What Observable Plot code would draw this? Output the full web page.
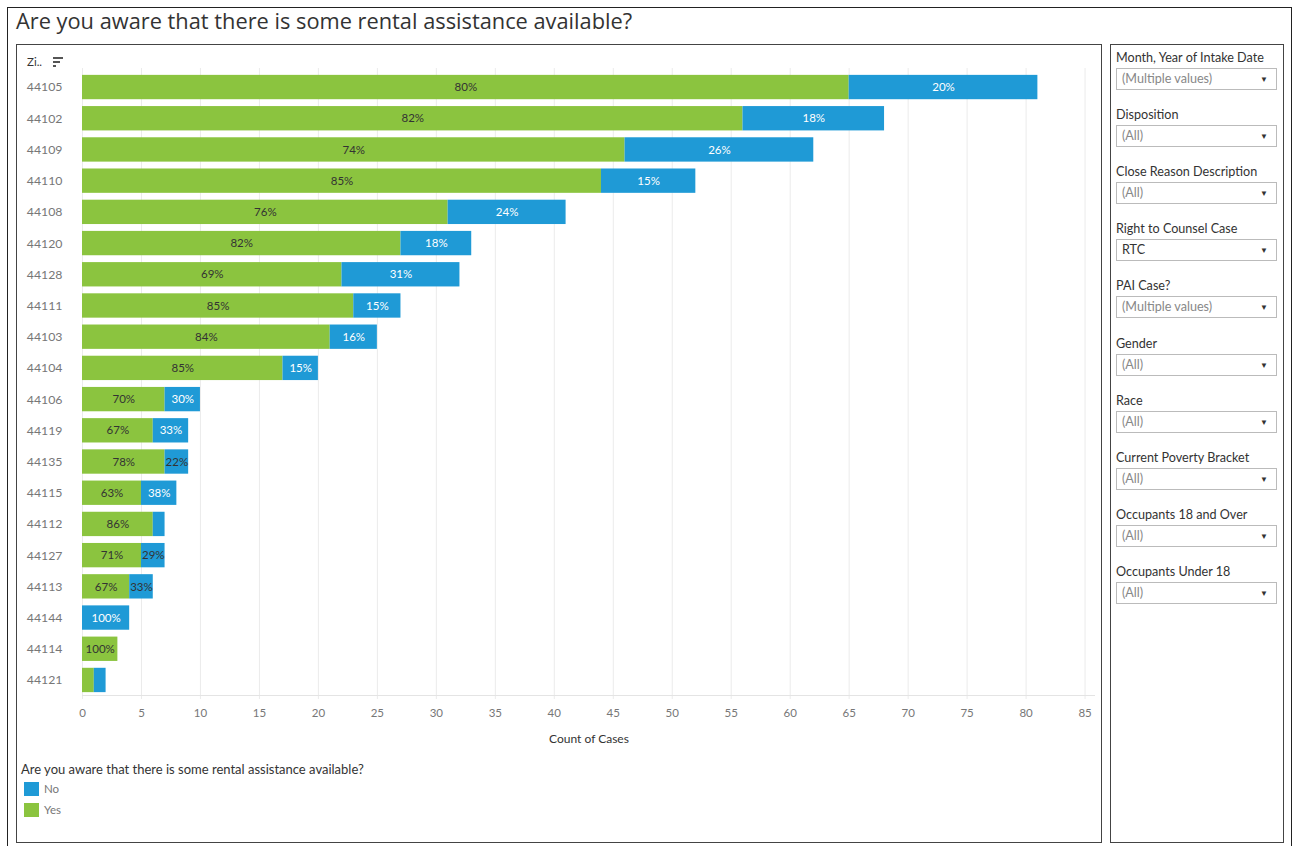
<!DOCTYPE html>
<html>
<head>
<meta charset="utf-8">
<script src="https://cdn.jsdelivr.net/npm/d3@7"></script>
<script src="https://cdn.jsdelivr.net/npm/@observablehq/plot@0.6"></script>
<style>
  html, body { margin: 0; padding: 0; background: #fff; }
  body { width: 1295px; height: 846px; position: relative; overflow: hidden; font-family: Lato, "Noto Sans", sans-serif; }
  .abs { position: absolute; }
  #frame { left: 7px; top: 7px; width: 1283px; height: 845px; border: 1px solid #222; }
  #title { left: 16px; top: 6px; font-family: "Open Sans", Lato, sans-serif; font-size: 21.8px; color: #333; white-space: nowrap; line-height: 30px; }
  #panel { left: 16px; top: 44px; width: 1084px; height: 797px; border: 1px solid #444; }
  #side { left: 1110px; top: 44px; width: 172px; height: 797px; border: 1px solid #444; }
  .flabel { font-size: 12.6px; color: #333; white-space: nowrap; }
  .fbox { width: 159px; height: 20px; border: 1px solid #bbb; font-size: 12.6px; color: #888; line-height: 20px; box-sizing: content-box; }
  .fbox span.v { position: absolute; left: 5px; top: 0; }
  .fbox span.a { position: absolute; right: 8px; top: 0; font-size: 8px; color: #333; }
  .leg { font-size: 13px; color: #333; white-space: nowrap; }
  .sw { width: 15px; height: 14px; }
  .li { font-size: 11.5px; color: #777; }
</style>
</head>
<body>
<div id="frame" class="abs"></div>
<div id="title" class="abs">Are you aware that there is some rental assistance available?</div>
<div id="panel" class="abs"></div>
<div id="side" class="abs"></div>
<div id="chart" class="abs" style="left:17px; top:45px;"></div>
<div class="abs" style="left:82px; top:695px; width:1013px; height:1px; background:#e4e4e4;"></div>
<div class="abs" style="left:27px; top:55px; font-size:11.5px; color:#333;">Zi..</div>
<div class="abs" style="left:53px; top:57px; width:10px; height:2px; background:#555;"></div>
<div class="abs" style="left:53px; top:61px; width:7px; height:2px; background:#555;"></div>
<div class="abs" style="left:53px; top:65px; width:3px; height:2px; background:#555;"></div>
<div class="abs" style="left:489px; top:731px; width:200px; text-align:center; font-size:12px; color:#333;">Count of Cases</div>
<div id="legend"></div>
<div id="filters"></div>
<script>
const zips = ["44105","44102","44109","44110","44108","44120","44128","44111","44103","44104","44106","44119","44135","44115","44112","44127","44113","44144","44114","44121"];
const yesCounts = [65,56,46,44,31,27,22,23,21,17,7,6,7,5,6,5,4,0,3,1];
const noCounts  = [16,12,16,8,10,6,10,4,4,3,3,3,2,3,1,2,2,4,0,1];
const answers = ["Yes","No"];
const xTicks = [0,5,10,15,20,25,30,35,40,45,50,55,60,65,70,75,80,85];
const legendTitle = "Are you aware that there is some rental assistance available?";
const legendItems = ["No","Yes"];
const filterLabels = ["Month, Year of Intake Date","Disposition","Close Reason Description","Right to Counsel Case","PAI Case?","Gender","Race","Current Poverty Bracket","Occupants 18 and Over","Occupants Under 18"];
const filterValues = ["(Multiple values)","(All)","(All)","RTC","(Multiple values)","(All)","(All)","(All)","(All)","(All)"];

const colors = {No: "#1f9ad6", Yes: "#8bc43f"};

const rows = [];
answers.forEach(ans => {
  zips.forEach((z, i) => {
    const total = yesCounts[i] + noCounts[i];
    const count = ans === "Yes" ? yesCounts[i] : noCounts[i];
    rows.push({zip: z, answer: ans, count, pct: Math.round(count / total * 100) + "%"});
  });
});

const labelDark = d => (d.count >= 2 && (d.answer === "Yes" || d.count < 3)) ? d.pct : "";
const labelWhite = d => (d.answer === "No" && d.count >= 3) ? d.pct : "";

const chart = Plot.plot({
  width: 1084,
  height: 710,
  marginLeft: 65,
  marginRight: 7,
  marginTop: 23,
  marginBottom: 56,
  style: {fontFamily: "Lato, 'Noto Sans', sans-serif", fontSize: "11px", background: "transparent"},
  x: {domain: [0, 85.8], ticks: xTicks, label: null},
  y: {domain: zips, padding: 0.22, round: false, label: null},
  color: {domain: legendItems, range: [colors.No, colors.Yes]},
  marks: [
    Plot.gridX(xTicks, {stroke: "#ebebeb", strokeOpacity: 1}),
    Plot.barX(rows, {x: "count", y: "zip", fill: "answer"}),
    Plot.text(rows, Plot.stackX({x: "count", y: "zip", z: "answer", text: labelDark, fill: "#333", fontSize: 11.5})),
    Plot.text(rows, Plot.stackX({x: "count", y: "zip", z: "answer", text: labelWhite, fill: "white", fontSize: 11.5})),
    Plot.axisX({ticks: xTicks, tickSize: 0, tickPadding: 9, color: "#777", fontSize: 11.5, label: null}),
    Plot.axisY({tickSize: 0, tickPadding: 20, color: "#777", fontSize: 12.3, label: null})
  ]
});
document.getElementById("chart").appendChild(chart);

// legend
const legend = document.getElementById("legend");
const lt = document.createElement("div");
lt.className = "abs leg";
lt.style.left = "21px"; lt.style.top = "761px";
lt.textContent = legendTitle;
legend.appendChild(lt);
legendItems.forEach((name, i) => {
  const sw = document.createElement("div");
  sw.className = "abs sw";
  sw.style.left = "24px"; sw.style.top = (782 + i * 21) + "px";
  sw.style.background = colors[name];
  legend.appendChild(sw);
  const t = document.createElement("div");
  t.className = "abs li";
  t.style.left = "44px"; t.style.top = (782 + i * 21) + "px";
  t.textContent = name;
  legend.appendChild(t);
});

// filters
const filters = document.getElementById("filters");
filterLabels.forEach((lab, i) => {
  const top = 50 + i * 57.1;
  const l = document.createElement("div");
  l.className = "abs flabel";
  l.style.left = "1116px"; l.style.top = top + "px";
  l.textContent = lab;
  filters.appendChild(l);
  const b = document.createElement("div");
  b.className = "abs fbox";
  b.style.left = "1116px"; b.style.top = (top + 18) + "px";
  const v = document.createElement("span");
  v.className = "v";
  v.textContent = filterValues[i];
  if (filterValues[i] === "RTC") v.style.color = "#333";
  const a = document.createElement("span");
  a.className = "a";
  a.textContent = "▼";
  b.appendChild(v); b.appendChild(a);
  filters.appendChild(b);
});
</script>
</body>
</html>
